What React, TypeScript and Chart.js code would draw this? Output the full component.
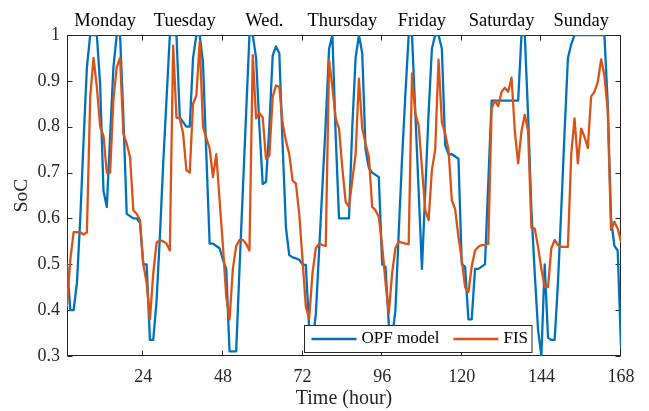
import { useEffect, useRef } from "react";
import { Chart, registerables } from "chart.js";

Chart.register(...registerables);

// ---- data (hourly, h = 1..168) ----
const hours: number[] = Array.from({ length: 168 }, (_, i) => i + 1);

const opfModel: number[] = [
  // Monday 1-24
  0.50, 0.40, 0.40, 0.46, 0.60, 0.77, 0.93, 1.00, 1.00, 1.00, 0.89, 0.66,
  0.625, 0.78, 0.93, 1.00, 1.00, 0.82, 0.61, 0.605, 0.60, 0.60, 0.59, 0.50,
  // Tuesday 25-48
  0.50, 0.335, 0.335, 0.42, 0.56, 0.72, 0.86, 1.00, 1.00, 1.00, 0.82, 0.81,
  0.80, 0.80, 0.95, 1.00, 1.00, 0.94, 0.74, 0.545, 0.545, 0.54, 0.535, 0.51,
  // Wednesday 49-72
  0.49, 0.31, 0.31, 0.31, 0.49, 0.66, 0.83, 1.00, 1.00, 0.95, 0.80, 0.675,
  0.68, 0.80, 0.955, 0.975, 0.96, 0.76, 0.58, 0.52, 0.515, 0.513, 0.51, 0.50,
  // Thursday 73-96
  0.498, 0.36, 0.33, 0.39, 0.53, 0.67, 0.81, 0.97, 1.00, 0.78, 0.60, 0.60,
  0.60, 0.60, 0.80, 0.95, 1.00, 0.96, 0.75, 0.71, 0.70, 0.695, 0.69, 0.50,
  // Friday 97-120
  0.495, 0.37, 0.34, 0.40, 0.57, 0.73, 0.87, 1.00, 1.00, 0.83, 0.66, 0.49,
  0.66, 0.83, 0.97, 1.00, 1.00, 0.97, 0.76, 0.74, 0.74, 0.735, 0.73, 0.50,
  // Saturday 121-144
  0.495, 0.38, 0.38, 0.49, 0.49, 0.495, 0.50, 0.68, 0.857, 0.857, 0.857, 0.857,
  0.857, 0.857, 0.857, 0.857, 0.857, 1.00, 1.00, 0.824, 0.617, 0.48, 0.357, 0.30,
  // Sunday 145-168
  0.50, 0.34, 0.335, 0.335, 0.46, 0.62, 0.79, 0.95, 0.98, 1.00, 1.00, 1.00,
  1.00, 1.00, 1.00, 1.00, 1.00, 1.00, 1.00, 0.85, 0.60, 0.54, 0.53, 0.32,
];

const fis: number[] = [
  // Monday 1-24
  0.41, 0.51, 0.57, 0.57, 0.57, 0.565, 0.57, 0.865, 0.95, 0.887, 0.80, 0.78,
  0.70, 0.70, 0.86, 0.93, 0.95, 0.785, 0.763, 0.734, 0.618, 0.61, 0.596, 0.50,
  // Tuesday 25-48
  0.46, 0.38, 0.48, 0.547, 0.553, 0.55, 0.545, 0.53, 0.977, 0.82, 0.818, 0.785,
  0.705, 0.70, 0.85, 0.868, 0.985, 0.80, 0.775, 0.753, 0.69, 0.74, 0.64, 0.54,
  // Wednesday 49-72
  0.43, 0.38, 0.49, 0.54, 0.553, 0.553, 0.545, 0.53, 0.956, 0.818, 0.83, 0.82,
  0.73, 0.737, 0.865, 0.89, 0.887, 0.807, 0.77, 0.74, 0.683, 0.676, 0.61, 0.51,
  // Thursday 73-96
  0.407, 0.382, 0.48, 0.535, 0.545, 0.542, 0.54, 0.945, 0.887, 0.818, 0.796, 0.71,
  0.636, 0.625, 0.683, 0.74, 0.905, 0.796, 0.763, 0.734, 0.625, 0.618, 0.603, 0.54,
  // Friday 97-120
  0.462, 0.393, 0.48, 0.535, 0.55, 0.547, 0.545, 0.544, 0.916, 0.829, 0.803, 0.71,
  0.618, 0.596, 0.706, 0.75, 0.946, 0.81, 0.785, 0.75, 0.64, 0.62, 0.56, 0.51,
  // Saturday 121-144
  0.45, 0.44, 0.495, 0.53, 0.538, 0.542, 0.542, 0.545, 0.84, 0.857, 0.845, 0.876,
  0.885, 0.876, 0.907, 0.79, 0.72, 0.79, 0.826, 0.79, 0.58, 0.578, 0.538, 0.49,
  // Sunday 145-168
  0.45, 0.45, 0.535, 0.553, 0.542, 0.538, 0.538, 0.538, 0.74, 0.818, 0.72, 0.796,
  0.778, 0.754, 0.866, 0.876, 0.897, 0.947, 0.912, 0.836, 0.575, 0.593, 0.578, 0.55,
];

const seriesLabels: string[] = ["OPF model", "FIS"];
const xTickValues: number[] = [24, 48, 72, 96, 120, 144, 168];
const yTickValues: number[] = [0.3, 0.4, 0.5, 0.6, 0.7, 0.8, 0.9, 1];
const dayLabels: string[] = ["Monday", "Tuesday", "Wed.", "Thursday", "Friday", "Saturday", "Sunday"];
const dayCenters: number[] = [12.5, 36.5, 60.5, 84, 108, 132, 156];

// ---- styles ----
const AXIS = "#262626";
const FONT = "'Liberation Serif', 'Times New Roman', serif";
const BLUE = "#0072BD";
const ORANGE = "#D95319";
const LINE_W = 2.3;

const framePlugin = {
  id: "matlabFrame",
  beforeDatasetsDraw(chart: any) {
    const { ctx, chartArea: a, scales } = chart;
    ctx.save();
    ctx.strokeStyle = AXIS;
    ctx.lineWidth = 1;
    const L = Math.round(a.left) + 0.5;
    const R = Math.round(a.right) - 0.5;
    const T = Math.round(a.top) + 0.5;
    const B = Math.round(a.bottom) - 0.5;
    ctx.strokeRect(L, T, R - L, B - T);
    const len = 5;
    ctx.beginPath();
    xTickValues.forEach((v) => {
      const x = Math.round(scales.x.getPixelForValue(v)) - 0.5;
      ctx.moveTo(x, B);
      ctx.lineTo(x, B - len);
      ctx.moveTo(x, T);
      ctx.lineTo(x, T + len);
    });
    yTickValues.forEach((v) => {
      const y = Math.round(scales.y.getPixelForValue(v)) + 0.5;
      ctx.moveTo(L, y);
      ctx.lineTo(L + len, y);
      ctx.moveTo(R, y);
      ctx.lineTo(R - len, y);
    });
    ctx.stroke();
    ctx.restore();
  },
};

const legendPlugin = {
  id: "boxLegend",
  afterDatasetsDraw(chart: any) {
    const { ctx, chartArea: a } = chart;
    ctx.save();
    ctx.font = `17px ${FONT}`;
    const items = chart.data.datasets.map((d: any) => ({ label: d.label, color: d.borderColor }));
    const lineLen = 45;
    const gapLT = 5;
    const gapItem = 14;
    const padL = 7;
    const padR = 4;
    const widths = items.map((it: any) => ctx.measureText(it.label).width);
    let boxW = padL + padR + gapItem * (items.length - 1);
    items.forEach((_: any, i: number) => {
      boxW += lineLen + gapLT + widths[i];
    });
    const boxH = 27;
    const right = a.right - 90;
    const bottom = a.bottom - 4.5;
    const left = Math.round(right - boxW) + 0.5;
    const top = Math.round(bottom - boxH) + 0.5;
    ctx.fillStyle = "#ffffff";
    ctx.fillRect(left, top, boxW, boxH);
    ctx.strokeStyle = AXIS;
    ctx.lineWidth = 1;
    ctx.strokeRect(left, top, boxW, boxH);
    const cy = top + boxH / 2;
    let x = left + padL;
    items.forEach((it: any, i: number) => {
      ctx.strokeStyle = it.color;
      ctx.lineWidth = LINE_W;
      ctx.beginPath();
      ctx.moveTo(x, cy);
      ctx.lineTo(x + lineLen, cy);
      ctx.stroke();
      x += lineLen + gapLT;
      ctx.fillStyle = "#000000";
      ctx.textBaseline = "middle";
      ctx.textAlign = "left";
      ctx.fillText(it.label, x, cy);
      x += widths[i] + gapItem;
    });
    ctx.restore();
  },
};

export default function App() {
  const ref = useRef<HTMLCanvasElement>(null);

  useEffect(() => {
    if (!ref.current) return;
    const chart = new Chart(ref.current, {
      type: "line",
      data: {
        datasets: [
          {
            label: seriesLabels[0],
            data: hours.map((h, i) => ({ x: h, y: opfModel[i] })),
            borderColor: BLUE,
            backgroundColor: BLUE,
            borderWidth: LINE_W,
            pointRadius: 0,
            tension: 0,
            order: 1,
          },
          {
            label: seriesLabels[1],
            data: hours.map((h, i) => ({ x: h, y: fis[i] })),
            borderColor: ORANGE,
            backgroundColor: ORANGE,
            borderWidth: LINE_W,
            pointRadius: 0,
            tension: 0,
            order: 0,
          },
        ],
      },
      options: {
        animation: false,
        responsive: false,
        events: [],
        layout: { padding: { left: 0, right: 28, top: 0, bottom: 0 } },
        elements: { line: { borderJoinStyle: "round", borderCapStyle: "round" } },
        plugins: { legend: { display: false }, tooltip: { enabled: false } },
        scales: {
          x: {
            type: "linear",
            position: "bottom",
            min: 1,
            max: 168,
            afterBuildTicks: (s: any) => {
              s.ticks = xTickValues.map((v) => ({ value: v }));
            },
            afterFit: (s: any) => {
              s.height = 55;
            },
            ticks: {
              color: AXIS,
              font: { family: FONT, size: 18 },
              padding: 10,
              maxRotation: 0,
              autoSkip: false,
              callback: (v: any) => String(v),
            },
            grid: { display: false, drawTicks: false },
            border: { display: false },
            title: {
              display: true,
              text: "Time (hour)",
              color: AXIS,
              font: { family: FONT, size: 20 },
              padding: { top: 0, bottom: 0 },
            },
          },
          xTop: {
            type: "linear",
            position: "top",
            min: 1,
            max: 168,
            afterBuildTicks: (s: any) => {
              s.ticks = dayCenters.map((v) => ({ value: v }));
            },
            afterFit: (s: any) => {
              s.height = 35;
            },
            ticks: {
              color: "#000000",
              font: { family: FONT, size: 18.5 },
              padding: 3,
              maxRotation: 0,
              autoSkip: false,
              callback: (_v: any, i: number) => dayLabels[i],
            },
            grid: { display: false, drawTicks: false },
            border: { display: false },
          },
          y: {
            type: "linear",
            min: 0.3,
            max: 1,
            afterBuildTicks: (s: any) => {
              s.ticks = yTickValues.map((v) => ({ value: v }));
            },
            afterFit: (s: any) => {
              s.width = 67;
            },
            ticks: {
              color: AXIS,
              font: { family: FONT, size: 18 },
              padding: 7,
              callback: (v: any) => String(Number(Number(v).toFixed(1))),
            },
            grid: { display: false, drawTicks: false },
            border: { display: false },
            title: {
              display: true,
              text: "SoC",
              color: AXIS,
              font: { family: FONT, size: 19.5 },
              padding: { top: 10, bottom: 0 },
            },
          },
        },
      },
      plugins: [framePlugin, legendPlugin],
    } as any);
    return () => chart.destroy();
  }, []);

  return (
    <div style={{ position: "absolute", left: 0, top: 0, width: 649, height: 411, background: "#ffffff" }}>
      <canvas ref={ref} width={649} height={411} style={{ display: "block", width: 649, height: 411 }} />
    </div>
  );
}
